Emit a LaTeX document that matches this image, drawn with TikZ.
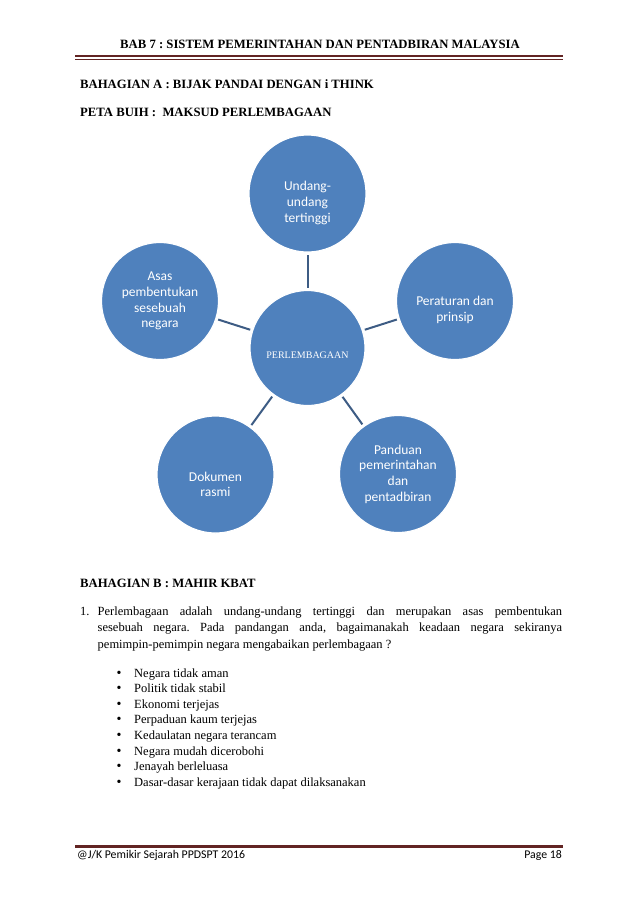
\documentclass[tikz,border=0pt]{standalone}
\usepackage{fontspec}
\setmainfont{Liberation Serif}
\newfontfamily\calibri{Carlito}
\usetikzlibrary{positioning}
\definecolor{bubble}{HTML}{4F81BD}
\definecolor{linkline}{HTML}{3D5C84}
\definecolor{rulered}{HTML}{622423}
\frenchspacing
\tikzset{
  bubble/.style={circle, fill=bubble, draw=white, line width=1.2pt, minimum size=117pt, inner sep=0pt},
  bubbletext/.style={text=white, align=center, font=\calibri\fontsize{13.5}{15.7}\selectfont, inner sep=0pt},
  link/.style={draw=linkline, line width=2pt, shorten <=2pt, shorten >=2pt},
  bodytext/.style={anchor=base west, inner sep=0pt, font=\fontsize{12.5}{15}\selectfont},
  heading/.style={anchor=base west, inner sep=0pt, font=\bfseries\fontsize{12.7}{15}\selectfont},
  footertext/.style={inner sep=0pt, font=\calibri\fontsize{11.8}{13}\selectfont},
}

\begin{document}
\begin{tikzpicture}[x=1pt, y=-1pt]
\useasboundingbox (0,0) rectangle (638,903);
% kepala halaman
\node[inner sep=0pt, anchor=base, font=\bfseries\fontsize{12.7}{15}\selectfont] (judul) at (320,48.5) {BAB 7 : SISTEM PEMERINTAHAN DAN PENTADBIRAN MALAYSIA};
\coordinate (garisA) at (75,56);
\coordinate (garisB) at (563,56);
\draw[rulered, line width=2.6pt] (garisA) -- (garisB);
\draw[rulered, line width=0.7pt] ([yshift=-3pt]garisA) -- ([yshift=-3pt]garisB);

\node[heading] (bahA) at (80,88) {BAHAGIAN A : BIJAK PANDAI DENGAN i THINK};
\node[heading] (peta) at (80,116) {PETA BUIH :\ \ MAKSUD PERLEMBAGAAN};

% peta buih
\node[bubble, minimum size=115pt] (pusat) at (307.5,348) {};
\node[inner sep=0pt, text=white, font=\fontsize{10}{11}\selectfont] (pusat-t) at ([yshift=-7pt]pusat.center) {PERLEMBAGAAN};

\node[bubble] (atas) at (307.5,193.5) {};
\node[bubble] (kanan) at (455,301) {};
\node[bubble] (kiri) at (160,301) {};
\node[bubble] (bkanan) at (398,474) {};
\node[bubble] (bkiri) at (215.5,474.5) {};

\node[bubbletext] (atas-t) at ([yshift=-9.5pt]atas.center) {Undang-\\undang\\tertinggi};
\node[bubbletext] (kanan-t) at ([yshift=-9pt]kanan.center) {Peraturan dan\\prinsip};
\node[bubbletext] (kiri-t) at (kiri.center) {Asas\\pembentukan\\sesebuah\\negara};
\node[bubbletext] (bkanan-t) at (bkanan.center) {Panduan\\pemerintahan\\dan\\pentadbiran};
\node[bubbletext] (bkiri-t) at ([yshift=-10pt]bkiri.center) {Dokumen\\rasmi};

\foreach \luar in {atas, kanan, kiri, bkanan, bkiri}
  \draw[link] (pusat) -- (\luar);

% bahagian B
\node[heading] (bahB) at (80,587) {BAHAGIAN B : MAHIR KBAT};
\node[bodytext] (nombor) at (80,615) {1.};
\node[bodytext] (soalan1) at (97.5,615) {\makebox[464.5pt][s]{Perlembagaan adalah undang-undang tertinggi dan merupakan asas pembentukan}};
\node[bodytext] (soalan2) at (97.5,631.5) {\makebox[464.5pt][s]{sesebuah negara. Pada pandangan anda, bagaimanakah keadaan negara sekiranya}};
\node[bodytext] (soalan3) at (97.5,648) {pemimpin-pemimpin negara mengabaikan perlembagaan ?};

\foreach \teks [count=\i] in {Negara tidak aman, Politik tidak stabil, Ekonomi terjejas, Perpaduan kaum terjejas, Kedaulatan negara terancam, Negara mudah dicerobohi, Jenayah berleluasa, Dasar-dasar kerajaan tidak dapat dilaksanakan}
{
  \node[bodytext] (butir\i) at (134,{677+15.6*(\i-1)}) {\teks};
  \node[bodytext, font=\fontsize{14}{15}\selectfont] (titik\i) at (116.5,{677+15.6*(\i-1)}) {\textbullet};
}

% kaki halaman
\coordinate (kakiA) at (75,846.5);
\coordinate (kakiB) at (563,846.5);
\draw[rulered, line width=3pt] (kakiA) -- (kakiB);
\node[footertext, anchor=base west] (kaki1) at (77,858) {@J/K Pemikir Sejarah PPDSPT 2016};
\node[footertext, anchor=base east] (kaki2) at (562,858) {Page 18};
\end{tikzpicture}
\end{document}
